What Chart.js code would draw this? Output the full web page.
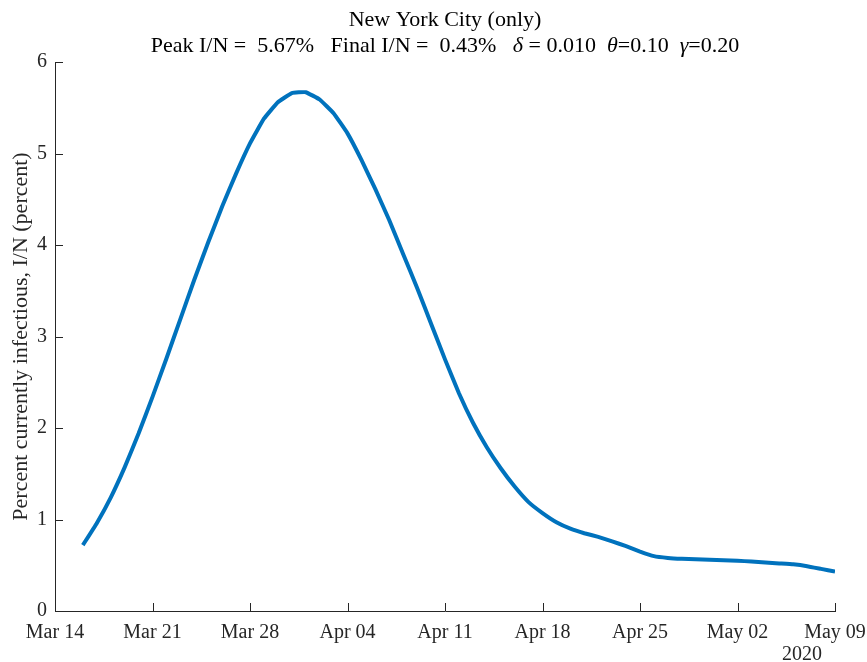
<!DOCTYPE html>
<html>
<head>
<meta charset="utf-8">
<script src="https://cdn.jsdelivr.net/npm/chart.js@4"></script>
<style>
  html, body { margin: 0; padding: 0; background: #fff; }
  #wrap { width: 867px; height: 662px; }
</style>
</head>
<body>
<div id="wrap"><canvas id="myChart" width="867" height="662"></canvas></div>
<script>
// ---------- Datos ----------
const fechaInicio = '2020-03-14';
const fechas = [
  '2020-03-16','2020-03-17','2020-03-18','2020-03-19','2020-03-20','2020-03-21','2020-03-22',
  '2020-03-23','2020-03-24','2020-03-25','2020-03-26','2020-03-27','2020-03-28','2020-03-29',
  '2020-03-30','2020-03-31','2020-04-01','2020-04-02','2020-04-03','2020-04-04','2020-04-05',
  '2020-04-06','2020-04-07','2020-04-08','2020-04-09','2020-04-10','2020-04-11','2020-04-12',
  '2020-04-13','2020-04-14','2020-04-15','2020-04-16','2020-04-17','2020-04-18','2020-04-19',
  '2020-04-20','2020-04-21','2020-04-22','2020-04-23','2020-04-24','2020-04-25','2020-04-26',
  '2020-04-27','2020-04-28','2020-04-29','2020-04-30','2020-05-01','2020-05-02','2020-05-03',
  '2020-05-04','2020-05-05','2020-05-06','2020-05-07','2020-05-08','2020-05-09'
];
const infectados = [
  0.72, 0.96, 1.24, 1.57, 1.94, 2.34, 2.76,
  3.19, 3.62, 4.03, 4.42, 4.78, 5.11, 5.38,
  5.56, 5.66, 5.67, 5.59, 5.44, 5.22, 4.93,
  4.61, 4.27, 3.90, 3.53, 3.14, 2.75, 2.38,
  2.06, 1.79, 1.56, 1.36, 1.19, 1.07, 0.97,
  0.90, 0.85, 0.81, 0.76, 0.71, 0.65, 0.60,
  0.58, 0.57, 0.565, 0.56, 0.555, 0.55, 0.54,
  0.53, 0.52, 0.51, 0.49, 0.46, 0.43
];
const etiquetasX = ['Mar 14', 'Mar 21', 'Mar 28', 'Apr 04', 'Apr 11', 'Apr 18', 'Apr 25', 'May 02', 'May 09'];
const etiquetasY = ['0', '1', '2', '3', '4', '5', '6'];

const FUENTE = '"Liberation Serif", "Times New Roman", serif';
const COLOR_EJE = '#262626';

const dia = f => Math.round((Date.parse(f) - Date.parse(fechaInicio)) / 86400000);
const puntos = fechas.map((f, i) => ({ x: dia(f), y: infectados[i] }));

// ---------- Plugin: ticks hacia adentro + título ----------
const estiloMatlab = {
  id: 'estiloMatlab',
  afterDraw(chart) {
    const { ctx, chartArea, scales } = chart;
    ctx.save();
    ctx.strokeStyle = COLOR_EJE;
    ctx.lineWidth = 1;
    scales.x.ticks.forEach(t => {
      const px = Math.round(scales.x.getPixelForValue(t.value)) + 0.5;
      ctx.beginPath();
      ctx.moveTo(px, chartArea.bottom);
      ctx.lineTo(px, chartArea.bottom - 8);
      ctx.stroke();
    });
    scales.y.ticks.forEach(t => {
      const py = Math.round(scales.y.getPixelForValue(t.value)) + 0.5;
      ctx.beginPath();
      ctx.moveTo(chartArea.left, py);
      ctx.lineTo(chartArea.left + 8, py);
      ctx.stroke();
    });

    // título
    const cx = (chartArea.left + chartArea.right) / 2;
    ctx.fillStyle = '#000';
    ctx.textBaseline = 'alphabetic';
    ctx.textAlign = 'center';
    ctx.font = '22px ' + FUENTE;
    ctx.fillText('New York City (only)', cx, 26);

    const partes = [
      ['Peak I/N =  5.67%   Final I/N =  0.43%   ', ''],
      ['\u03B4', 'italic '],
      [' = 0.010  ', ''],
      ['\u03B8', 'italic '],
      ['=0.10  ', ''],
      ['\u03B3', 'italic '],
      ['=0.20', '']
    ];
    let total = 0;
    partes.forEach(p => { ctx.font = p[1] + '22px ' + FUENTE; total += ctx.measureText(p[0]).width; });
    let x = cx - total / 2;
    ctx.textAlign = 'left';
    partes.forEach(p => {
      ctx.font = p[1] + '22px ' + FUENTE;
      ctx.fillText(p[0], x, 52);
      x += ctx.measureText(p[0]).width;
    });

    // año
    ctx.font = '20px ' + FUENTE;
    ctx.textAlign = 'center';
    ctx.fillStyle = '#262626';
    ctx.fillText('2020', scales.x.getPixelForValue(56) - 33, 660);
    ctx.restore();
  }
};

// ---------- Gráfica ----------
const ctx = document.getElementById('myChart').getContext('2d');
new Chart(ctx, {
  type: 'line',
  data: {
    datasets: [{
      data: puntos,
      borderColor: '#0072BD',
      borderWidth: 4,
      pointRadius: 0,
      tension: 0.1,
      fill: false
    }]
  },
  options: {
    responsive: false,
    animation: false,
    layout: { padding: { top: 62, right: 32, left: 0, bottom: 0 } },
    plugins: { legend: { display: false }, tooltip: { enabled: false }, title: { display: false } },
    scales: {
      x: {
        type: 'linear',
        min: 0,
        max: 56,
        afterFit: s => { s.height = 51; s.paddingLeft = 0; s.paddingRight = 0; },
        afterBuildTicks: s => { s.ticks = etiquetasX.map((_, i) => ({ value: i * 7 })); },
        ticks: {
          color: '#262626',
          font: { family: FUENTE, size: 20 },
          padding: 10,
          maxRotation: 0,
          autoSkip: false,
          callback: (v, i) => etiquetasX[i]
        },
        grid: { display: false, drawTicks: false },
        border: { display: true, color: COLOR_EJE, width: 1 }
      },
      y: {
        min: 0,
        max: 6,
        afterFit: s => { s.width = 55; s.paddingTop = 0; s.paddingBottom = 0; },
        afterBuildTicks: s => { s.ticks = etiquetasY.map((_, i) => ({ value: i })); },
        ticks: {
          color: '#262626',
          font: { family: FUENTE, size: 20 },
          padding: 8,
          callback: (v, i) => etiquetasY[i]
        },
        title: {
          display: true,
          text: 'Percent currently infectious, I/N (percent)',
          color: '#262626',
          font: { family: FUENTE, size: 22 },
          padding: { top: 8, bottom: 0 }
        },
        grid: { display: false, drawTicks: false },
        border: { display: true, color: COLOR_EJE, width: 1 }
      }
    }
  },
  plugins: [estiloMatlab]
});
</script>
</body>
</html>
